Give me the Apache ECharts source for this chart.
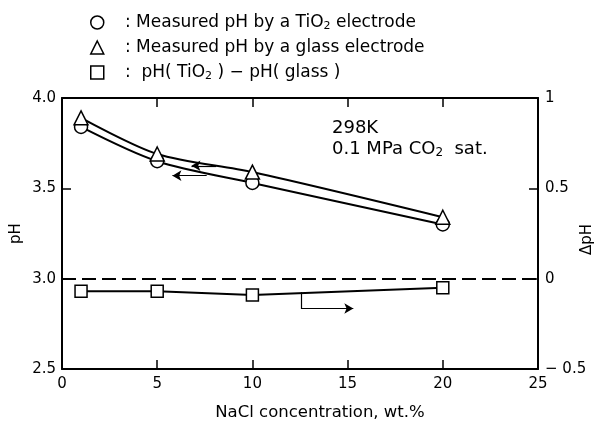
<!DOCTYPE html>
<html>
<head>
<meta charset="utf-8">
<script src="https://cdn.jsdelivr.net/npm/echarts@6/dist/echarts.min.js"></script>
<style>
html, body { margin: 0; background: #fff; }
#main { width: 600px; height: 424px; }
</style>
</head>
<body>
<div id="main"></div>
<script>
// NaCl concentration (wt.%)
var nacl = [1, 5, 10, 20];
// pH measured by TiO2 electrode (left axis)
var phTiO2 = [3.84, 3.65, 3.53, 3.30];
// pH measured by glass electrode (left axis)
var phGlass = [3.89, 3.69, 3.59, 3.34];
// pH(TiO2) - pH(glass) (right axis)
var deltaPh = [-0.07, -0.07, -0.09, -0.05];

var legendText = {
    'TiO2': '   : Measured pH by a TiO{s|2} electrode',
    'glass': '   : Measured pH by a glass electrode',
    'delta': '   :  pH( TiO{s|2} ) − pH( glass )'
};

function pairs(xs, ys) {
    var out = [];
    for (var i = 0; i < xs.length; i++) {
        out.push([xs[i], ys[i]]);
    }
    return out;
}

var FONT = 'DejaVu Sans';
var axisLine = { show: true, onZero: false, lineStyle: { color: '#000', width: 2 } };
var tickIn = { show: true, inside: true, length: 9, lineStyle: { color: '#000', width: 1.5 } };
var markerStyle = { color: '#fff', borderColor: '#000', borderWidth: 1.5 };

var myChart = echarts.init(document.getElementById('main'));
var option = {
    animation: false,
    backgroundColor: '#fff',
    textStyle: { fontFamily: FONT, color: '#000' },
    legend: {
        orient: 'vertical',
        left: 90,
        top: 13,
        padding: 0,
        itemWidth: 13,
        itemHeight: 13,
        itemGap: 6,
        selectedMode: false,
        itemStyle: { color: '#fff', borderColor: '#000', borderWidth: 1.5 },
        data: [
            { name: 'TiO2', icon: 'circle' },
            { name: 'glass', icon: 'triangle' },
            { name: 'delta', icon: 'rect' }
        ],
        formatter: function (name) { return legendText[name]; },
        textStyle: {
            fontFamily: FONT, fontSize: 17, color: '#000', lineHeight: 19,
            rich: { s: { fontFamily: FONT, fontSize: 11, color: '#000', padding: [7, 0, 0, 0] } }
        }
    },
    graphic: [
        {
            type: 'text', left: 332, top: 119,
            style: { text: '298K', font: '18px "DejaVu Sans"', fill: '#000' }
        },
        {
            type: 'text', left: 332, top: 140,
            style: {
                text: '0.1 MPa CO{s|2}  sat.', font: '18px "DejaVu Sans"', fill: '#000',
                rich: { s: { fontFamily: FONT, fontSize: 12, padding: [7, 0, 0, 0] } }
            }
        }
    ],
    grid: { left: 62, right: 62, top: 98, bottom: 55, outerBoundsMode: 'none' },
    xAxis: [
        {
            type: 'value', min: 0, max: 25, interval: 5, position: 'bottom',
            name: 'NaCl concentration, wt.%', nameLocation: 'middle', nameGap: 35,
            nameTextStyle: { fontFamily: FONT, fontSize: 16.5, color: '#000', padding: [0, 0, 0, 40] },
            axisLine: axisLine, axisTick: tickIn, splitLine: { show: false },
            axisLabel: { fontFamily: FONT, fontSize: 15, color: '#000', margin: 8 }
        },
        {
            type: 'value', min: 0, max: 25, interval: 5, position: 'top',
            axisLine: axisLine, axisTick: tickIn, splitLine: { show: false },
            axisLabel: { show: false }
        }
    ],
    yAxis: [
        {
            type: 'value', min: 2.5, max: 4.0, interval: 0.5, position: 'left',
            name: 'pH', nameLocation: 'middle', nameGap: 38, nameRotate: 90,
            nameMoveOverlap: false,
            nameTextStyle: { fontFamily: FONT, fontSize: 15, color: '#000' },
            axisLine: axisLine, axisTick: tickIn, splitLine: { show: false },
            axisLabel: {
                fontFamily: FONT, fontSize: 15, color: '#000', margin: 6,
                formatter: function (v) { return v.toFixed(1); }
            }
        },
        {
            type: 'value', min: -0.5, max: 1, interval: 0.5, position: 'right',
            name: 'ΔpH', nameLocation: 'middle', nameGap: 42, nameRotate: 90,
            nameMoveOverlap: false,
            nameTextStyle: { fontFamily: FONT, fontSize: 15, color: '#000', padding: [0, 12, 0, 0] },
            axisLine: axisLine, axisTick: tickIn, splitLine: { show: false },
            axisLabel: {
                fontFamily: FONT, fontSize: 15, color: '#000', margin: 7,
                formatter: function (v) {
                    if (v < 0) return '− ' + Math.abs(v);
                    return String(v);
                }
            }
        }
    ],
    series: [
        {
            name: 'TiO2', type: 'line', yAxisIndex: 0, smooth: 0.3,
            data: pairs(nacl, phTiO2),
            symbol: 'circle', symbolSize: 13, showAllSymbol: true,
            itemStyle: markerStyle,
            lineStyle: { color: '#000', width: 2 },
            z: 3,
            markLine: {
                silent: true, animation: false,
                symbol: ['none', 'arrow'], symbolSize: [8, 9],
                label: { show: false },
                lineStyle: { color: '#000', width: 1.2, type: 'solid' },
                data: [
                    [{ coord: [7.6, 3.57] }, { coord: [5.8, 3.57] }],
                    [{ coord: [8.1, 3.625] }, { coord: [6.8, 3.625] }]
                ]
            }
        },
        {
            name: 'glass', type: 'line', yAxisIndex: 0, smooth: 0.3,
            data: pairs(nacl, phGlass),
            symbol: 'triangle', symbolSize: 14, showAllSymbol: true,
            itemStyle: markerStyle,
            lineStyle: { color: '#000', width: 2 },
            z: 4
        },
        {
            name: 'delta', type: 'line', yAxisIndex: 1,
            data: pairs(nacl, deltaPh),
            symbol: 'rect', symbolSize: 12, showAllSymbol: true,
            itemStyle: markerStyle,
            lineStyle: { color: '#000', width: 2 },
            z: 3,
            markLine: {
                silent: true, animation: false,
                symbol: ['none', 'none'],
                label: { show: false },
                lineStyle: { color: '#000', width: 2, type: [14, 6] },
                data: [
                    { yAxis: 0 },
                    [
                        { coord: [12.55, -0.075], symbol: 'none', lineStyle: { width: 1.2, type: 'solid' } },
                        { coord: [12.55, -0.165], symbol: 'none' }
                    ],
                    [
                        { coord: [12.55, -0.165], symbol: 'none', lineStyle: { width: 1.2, type: 'solid' } },
                        { coord: [15.3, -0.165], symbol: 'arrow', symbolSize: [8, 9] }
                    ]
                ]
            }
        }
    ]
};
myChart.setOption(option);
</script>
</body>
</html>
